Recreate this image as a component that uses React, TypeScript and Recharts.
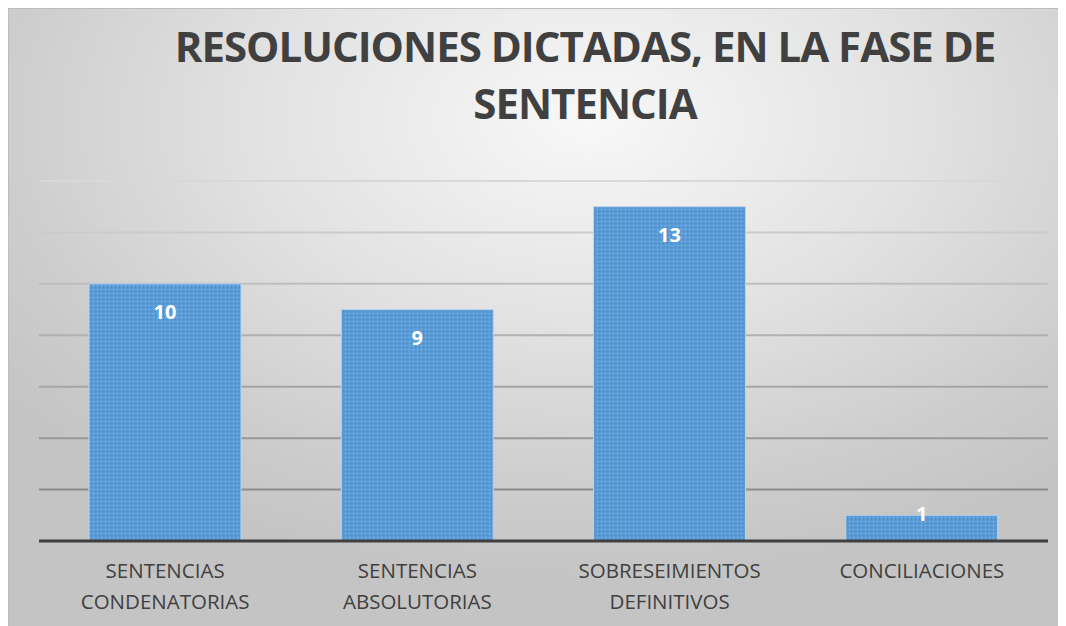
import React from "react";
import { BarChart, Bar, XAxis, YAxis, CartesianGrid, LabelList } from "recharts";

const categories = ["SENTENCIAS CONDENATORIAS", "SENTENCIAS ABSOLUTORIAS", "SOBRESEIMIENTOS DEFINITIVOS", "CONCILIACIONES"];
const categoryLines = [["SENTENCIAS", "CONDENATORIAS"], ["SENTENCIAS", "ABSOLUTORIAS"], ["SOBRESEIMIENTOS", "DEFINITIVOS"], ["CONCILIACIONES"]];
const values = [10, 9, 13, 1];
const yTicks = [0, 2, 4, 6, 8, 10, 12, 14];
const titleLines = ["RESOLUCIONES DICTADAS, EN LA FASE DE", "SENTENCIA"];

const data = categories.map((c, i) => ({ name: c, lines: categoryLines[i], value: values[i] }));

const FONT = "'Open Sans', 'Noto Sans', sans-serif";

const Tick = (props: any) => {
  const { x, y, payload, index } = props;
  const lines = categoryLines[index] || [String(payload.value)];
  return (
    <g>
      {lines.map((l: string, i: number) => (
        <text key={i} x={x} y={y + 29 + i * 31} textAnchor="middle" fill="#404040" fontSize={20.5} fontFamily={FONT}>
          {l}
        </text>
      ))}
    </g>
  );
};

const GridLine = (props: any) => {
  const { x1, x2, y1, y2, y, height } = props;
  const t = Math.max(0, Math.min(1, (y1 - y) / height));
  const c = Math.round(216 - t * 90);
  const col = `rgb(${c},${c},${c})`;
  return <line x1={x1} x2={x2} y1={y1} y2={y2} stroke={col} strokeWidth={2} />;
};

const ValueLabel = (props: any) => {
  const { x, y, width, height, value } = props;
  const cy = Math.min(y + 28, y + height - 27);
  return (
    <text x={x + width / 2} y={cy} dy={7} textAnchor="middle" fill="#ffffff" fontSize={20} fontWeight={700} fontFamily={FONT}>
      {value}
    </text>
  );
};

export default function App() {
  return (
    <div
      style={{
        position: "relative",
        width: 1054,
        height: 618,
        background: "radial-gradient(ellipse 70% 75% at 55% 18%, #f8f8f8 0%, #e2e2e2 45%, #cdcdcd 80%, #c4c4c4 100%)",
        borderTop: "1px solid #bdbdbd",
        borderLeft: "1px solid #bdbdbd",
        boxSizing: "border-box",
      }}
    >
      <div
        style={{
          position: "absolute",
          left: 0,
          width: 1152,
          top: 8,
          textAlign: "center",
          fontFamily: FONT,
          fontWeight: 700,
          fontSize: 42,
          letterSpacing: "-1px",
          lineHeight: "57px",
          color: "#404040",
        }}
      >
        {titleLines.map((l, i) => (
          <div key={i}>{l}</div>
        ))}
      </div>
      <BarChart
        width={1054}
        height={618}
        data={data}
        margin={{ top: 172, right: 15, left: 30, bottom: 0 }}
        barCategoryGap={50}
        style={{ position: "absolute", left: 0, top: 0 }}
      >
        <defs>
          <pattern id="dots" width="4" height="4" patternUnits="userSpaceOnUse">
            <rect width="4" height="4" fill="#5b9bd5" />
            <rect x="0" y="0" width="1" height="1" fill="#8fbbe8" />
            <rect x="2" y="2" width="1" height="1" fill="#4a8acb" />
          </pattern>
        </defs>
        <CartesianGrid vertical={false} horizontal={GridLine} />
        <YAxis hide domain={[0, 14]} ticks={yTicks} />
        <XAxis
          dataKey="name"
          height={86}
          axisLine={{ stroke: "#404040", strokeWidth: 3 }}
          tickLine={false}
          tick={Tick}
          interval={0}
        />
        <Bar dataKey="value" fill="url(#dots)" stroke="#b8d3f0" strokeWidth={1} isAnimationActive={false}>
          <LabelList dataKey="value" content={ValueLabel} />
        </Bar>
      </BarChart>
    </div>
  );
}
